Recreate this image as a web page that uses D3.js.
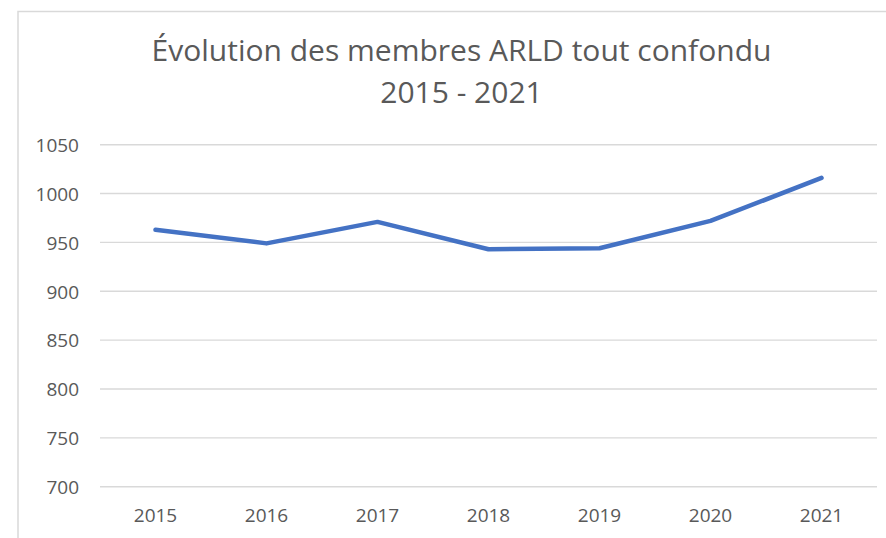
<!DOCTYPE html>
<html>
<head>
<meta charset="utf-8">
<script src="https://cdn.jsdelivr.net/npm/d3@7"></script>
<style>
  html, body { margin: 0; padding: 0; background: #fff; }
  svg { display: block; }
  text { font-family: "Open Sans", sans-serif; fill: #595959; }
</style>
</head>
<body>
<svg id="chart" width="886" height="538"></svg>
<script>
const titleLines = ["Évolution des membres ARLD tout confondu", "2015 - 2021"];
const years = ["2015", "2016", "2017", "2018", "2019", "2020", "2021"];
const members = [963, 949, 971, 943, 944, 972, 1016];
const yTicks = [700, 750, 800, 850, 900, 950, 1000, 1050];

const svg = d3.select("#chart");
const W = 886, H = 538;
const m = { left: 100, right: 9, top: 144.7, bottom: 51.3 };

// chart frame
svg.append("rect")
  .attr("x", 18).attr("y", 11.5)
  .attr("width", 920).attr("height", 600)
  .attr("fill", "#fff")
  .attr("stroke", "#d9d9d9").attr("stroke-width", 1.5);

const x = d3.scaleBand().domain(years).range([m.left, W - m.right]);
const y = d3.scaleLinear().domain([700, 1050]).range([H - m.bottom, m.top]);

// gridlines
svg.append("g")
  .selectAll("line").data(yTicks).join("line")
  .attr("x1", m.left).attr("x2", W - m.right)
  .attr("y1", d => y(d)).attr("y2", d => y(d))
  .attr("stroke", "#d9d9d9").attr("stroke-width", 1.4);

// y axis labels
const yAxis = svg.append("g")
  .attr("transform", `translate(${m.left - 21},0)`)
  .call(d3.axisLeft(y).tickValues(yTicks).tickFormat(d3.format("d")).tickSize(0).tickPadding(0));
yAxis.select(".domain").remove();
yAxis.selectAll("text")
  .attr("font-size", 19).attr("font-family", "Open Sans, sans-serif")
  .attr("fill", "#595959").attr("dy", "0.36em");

// x axis labels
const xAxis = svg.append("g")
  .attr("transform", `translate(0,${H - m.bottom})`)
  .call(d3.axisBottom(x).tickSize(0).tickPadding(0));
xAxis.select(".domain").remove();
xAxis.selectAll("text")
  .attr("font-size", 19).attr("font-family", "Open Sans, sans-serif")
  .attr("fill", "#595959").attr("y", 35).attr("dy", 0);

// line
const line = d3.line()
  .x((d, i) => x(years[i]) + x.bandwidth() / 2)
  .y(d => y(d));
svg.append("path")
  .datum(members)
  .attr("d", line)
  .attr("fill", "none")
  .attr("stroke", "#4472C4")
  .attr("stroke-width", 4.5)
  .attr("stroke-linecap", "round")
  .attr("stroke-linejoin", "round");

// title
svg.append("g").selectAll("text").data(titleLines).join("text")
  .attr("x", 461.5)
  .attr("y", (d, i) => 60.5 + i * 42)
  .attr("text-anchor", "middle")
  .attr("font-size", 30)
  .attr("fill", "#595959")
  .text(d => d);
</script>
</body>
</html>
